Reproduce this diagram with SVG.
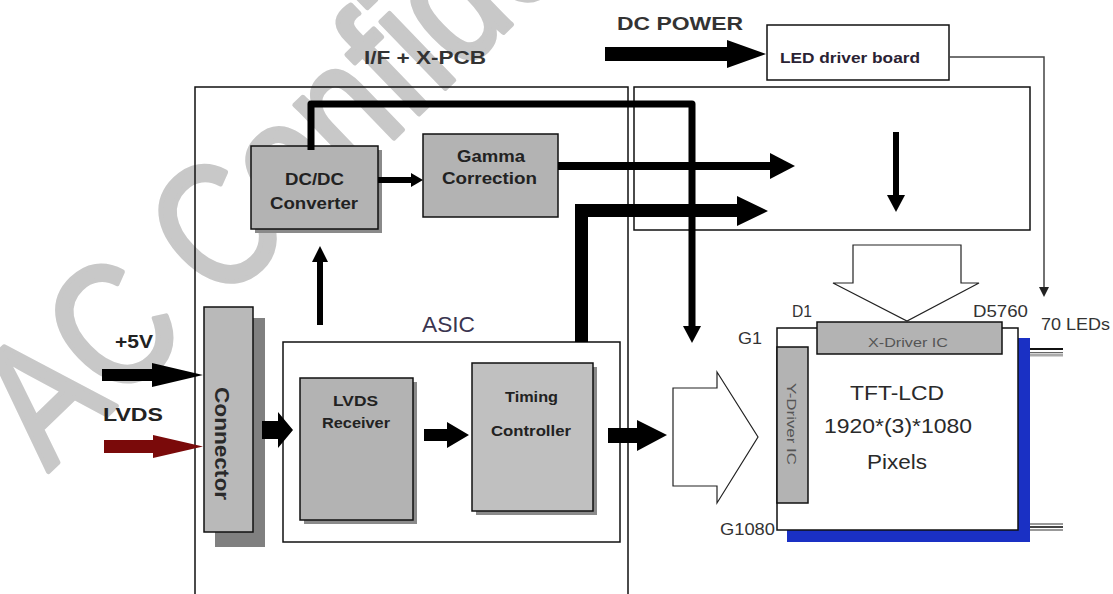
<svg xmlns="http://www.w3.org/2000/svg" width="1113" height="594" viewBox="0 0 1113 594">
<style>
  text { font-family: "Liberation Sans", Arial, sans-serif; fill: #222; }
  .b { font-weight: bold; }
  .frame { fill: none; stroke: #111; stroke-width: 1.5; }
  .blk { fill: #b3b3b3; stroke: #111; stroke-width: 1.5; }
  .shadow { fill: #8a8a8a; }
  .solid { fill: #000; stroke: none; }
  .wire { fill: none; stroke: #000; }
  .hollow { fill: #fff; stroke: #222; stroke-width: 1.2; }
  .wm { font-family: "Liberation Sans", sans-serif; font-size: 175px; fill: #c8c8c8; stroke: #c8c8c8; stroke-width: 5; stroke-linejoin: round; stroke-linecap: round; }
</style>

<!-- watermark -->
<g id="watermark">
  <text class="wm" transform="translate(48,472) rotate(-44) scale(0.82,1)">AC Confidential</text>
</g>

<!-- frames -->
<g id="ifpcb">
  <path class="frame" d="M195,594 V87 H628 V594"/>
  <text class="b" x="364" y="64" font-size="19" textLength="122" lengthAdjust="spacingAndGlyphs" style="fill:#333">I/F + X-PCB</text>
</g>
<g id="xpcb-right">
  <rect class="frame" x="634" y="87" width="396" height="143"/>
</g>

<g id="dcpower-label">
  <text class="b" x="617" y="30" font-size="19" textLength="126" lengthAdjust="spacingAndGlyphs" style="fill:#333">DC POWER</text>
</g>

<g id="led-driver">
  <rect class="frame" x="767" y="25" width="182" height="55"/>
  <text class="b" x="780" y="63" font-size="14" textLength="140" lengthAdjust="spacingAndGlyphs" style="fill:#2a2233">LED driver board</text>
</g>

<g id="dcdc">
  <rect class="shadow" x="255" y="150" width="127" height="83"/>
  <rect class="blk" x="251" y="146" width="127" height="83"/>
  <text class="b" x="285" y="185" font-size="16" textLength="59" lengthAdjust="spacingAndGlyphs">DC/DC</text>
  <text class="b" x="270" y="209" font-size="16" textLength="88" lengthAdjust="spacingAndGlyphs">Converter</text>
</g>

<g id="gamma">
  <rect class="blk" x="423" y="134" width="135" height="83"/>
  <text class="b" x="457" y="162" font-size="16" textLength="68" lengthAdjust="spacingAndGlyphs">Gamma</text>
  <text class="b" x="442" y="184" font-size="16" textLength="95" lengthAdjust="spacingAndGlyphs">Correction</text>
</g>

<g id="connector">
  <rect x="215" y="318" width="50" height="229" fill="#808080"/>
  <rect class="blk" x="204" y="307" width="49" height="225" style="fill:#b9b9b9"/>
  <text class="b" transform="translate(215,387) rotate(90)" font-size="20" textLength="113" lengthAdjust="spacingAndGlyphs" style="fill:#2a2a2a">Connector</text>
</g>

<g id="asic">
  <rect class="frame" x="283" y="342" width="337" height="200" style="fill:#fff"/>
  <text x="422" y="332" font-size="22" textLength="53" lengthAdjust="spacingAndGlyphs" style="fill:#3a3550">ASIC</text>
</g>

<g id="lvds-receiver">
  <rect class="shadow" x="304" y="382" width="113" height="142"/>
  <rect class="blk" x="300" y="378" width="113" height="142"/>
  <text class="b" x="333" y="406" font-size="15" textLength="45" lengthAdjust="spacingAndGlyphs">LVDS</text>
  <text class="b" x="322" y="428" font-size="15" textLength="68" lengthAdjust="spacingAndGlyphs">Receiver</text>
</g>

<g id="timing-controller">
  <rect class="shadow" x="476" y="367" width="121" height="148"/>
  <rect class="blk" x="472" y="363" width="121" height="148" style="fill:#c0c0c0"/>
  <text class="b" x="505" y="402" font-size="15" textLength="53" lengthAdjust="spacingAndGlyphs">Timing</text>
  <text class="b" x="491" y="436" font-size="15" textLength="80" lengthAdjust="spacingAndGlyphs">Controller</text>
</g>

<g id="inputs">
  <text class="b" x="115" y="348" font-size="18" textLength="38" lengthAdjust="spacingAndGlyphs">+5V</text>
  <text class="b" x="103" y="421" font-size="19" textLength="60" lengthAdjust="spacingAndGlyphs">LVDS</text>
</g>

<g id="panel">
  <rect x="787" y="338" width="243" height="204" fill="#1a30c4"/>
  <rect class="frame" x="777" y="328" width="241" height="202" style="fill:#fff"/>
  <rect class="blk" x="817" y="322" width="185" height="32"/>
  <text x="868" y="347" font-size="13" textLength="80" lengthAdjust="spacingAndGlyphs" style="fill:#555">X-Driver IC</text>
  <rect class="blk" x="777" y="347" width="31" height="156"/>
  <text transform="translate(787,383) rotate(90)" font-size="13" textLength="82" lengthAdjust="spacingAndGlyphs" style="fill:#555">Y-Driver IC</text>
  <text x="850" y="400" font-size="21" textLength="94" lengthAdjust="spacingAndGlyphs" style="fill:#2a2a2a">TFT-LCD</text>
  <text x="824" y="433" font-size="21" textLength="148" lengthAdjust="spacingAndGlyphs" style="fill:#2a2a2a">1920*(3)*1080</text>
  <text x="867" y="469" font-size="21" textLength="60" lengthAdjust="spacingAndGlyphs" style="fill:#2a2a2a">Pixels</text>
  <text x="792" y="317" font-size="16" textLength="20" lengthAdjust="spacingAndGlyphs" style="fill:#333">D1</text>
  <text x="973" y="317" font-size="16" textLength="55" lengthAdjust="spacingAndGlyphs" style="fill:#333">D5760</text>
  <text x="738" y="344" font-size="16" textLength="24" lengthAdjust="spacingAndGlyphs" style="fill:#333">G1</text>
  <text x="720" y="535" font-size="16" textLength="55" lengthAdjust="spacingAndGlyphs" style="fill:#333">G1080</text>
  <text x="1041" y="330" font-size="16" textLength="69" lengthAdjust="spacingAndGlyphs" style="fill:#333">70 LEDs</text>
  <line x1="1030" y1="349" x2="1063" y2="349" stroke="#111" stroke-width="2"/>
  <line x1="1030" y1="352.5" x2="1063" y2="352.5" stroke="#666" stroke-width="1"/>
  <line x1="1030" y1="355" x2="1063" y2="355" stroke="#aaa" stroke-width="3"/>
  <line x1="1030" y1="524" x2="1063" y2="524" stroke="#999" stroke-width="2"/>
  <line x1="1030" y1="527" x2="1063" y2="527" stroke="#444" stroke-width="2"/>
  <line x1="1030" y1="530" x2="1063" y2="530" stroke="#999" stroke-width="2"/>
</g>

<g id="connectors">
  <polygon class="solid" points="605,47 727,47 727,40 766,54 727,68 727,61 605,61"/>
  <polyline points="949,57 1044,57 1044,288" fill="none" stroke="#444" stroke-width="1.5"/>
  <polygon points="1039,287 1049,287 1044,297" fill="#222"/>
  <path class="wire" d="M311,150 V104 H692 V327" stroke-width="7" stroke-linejoin="round"/>
  <polygon class="solid" points="683,326 701,326 692,343"/>
  <rect class="solid" x="378" y="177" width="34" height="6"/>
  <polygon class="solid" points="411,173 423,180 411,187"/>
  <rect class="solid" x="558" y="162" width="213" height="8"/>
  <polygon class="solid" points="770,153 795,166 770,179"/>
  <path class="solid" d="M575,342 V204 H737 V196 L768,211 L737,226 V217 H588 V342 Z"/>
  <rect class="solid" x="893" y="132" width="6" height="64"/>
  <polygon class="solid" points="887,195 905,195 896,212"/>
  <rect class="solid" x="317" y="260" width="6" height="65"/>
  <polygon class="solid" points="312,262 328,262 320,246"/>
  <polygon class="solid" points="102,369 152,369 152,363 203,375 152,387 152,381 102,381"/>
  <polygon points="104,440 153,440 153,435 203,446.5 153,458 153,453 104,453" fill="#7a0a0a"/>
  <polygon class="solid" points="262,421 278,421 278,412 293,430 278,448 278,439 262,439"/>
  <polygon class="solid" points="424,429 447,429 447,422 469,435 447,448 447,441 424,441"/>
  <polygon class="solid" points="608,428 637,428 637,420 667,435 637,451 637,443 608,443"/>
  <polygon class="hollow" points="673,388 717,388 717,372 758,437 717,503 717,486 673,486"/>
  <polygon class="hollow" points="853,245 961,245 961,283 979,283 907,321 833,283 853,283"/>
</g>
</svg>
